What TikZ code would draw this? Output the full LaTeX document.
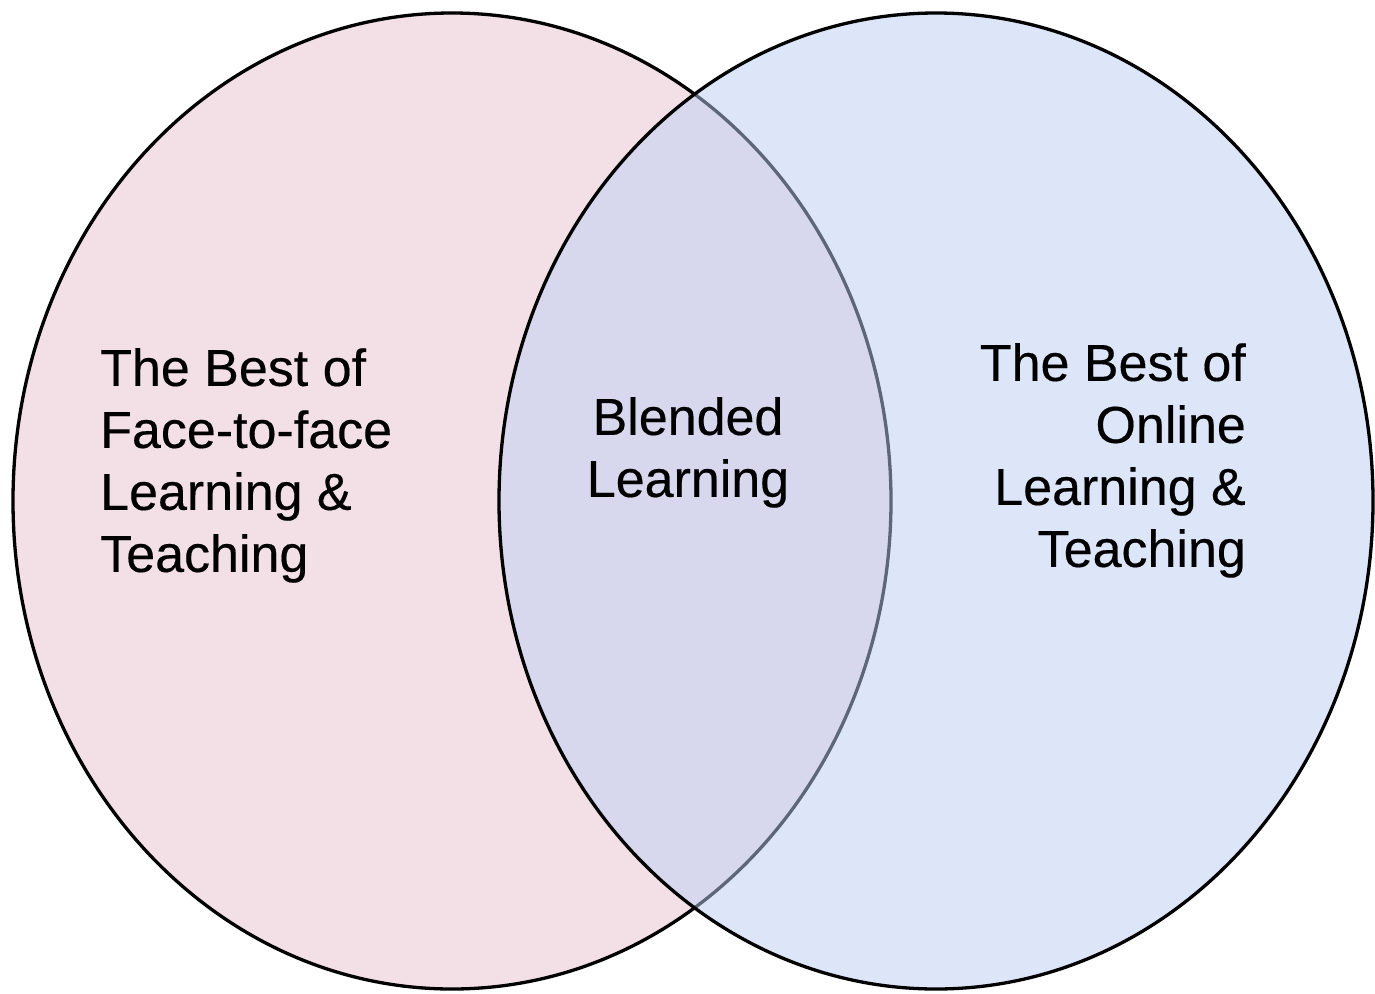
\documentclass[tikz,border=0pt]{standalone}
\usepackage{fontspec}
\setmainfont{Liberation Sans}
\newfontfamily\labelfont{Liberation Sans}[FakeBold=0.35]
\definecolor{pinkfill}{RGB}{243,224,230}
\definecolor{bluefill}{RGB}{189,207,245}
\begin{document}
\begin{tikzpicture}[x=1pt,y=-1pt,
  setcircle/.style={draw=black,line width=3.3pt},
  label/.style={font=\labelfont\fontsize{52}{62}\selectfont,inner sep=0pt,text=black}]
\useasboundingbox (0,0) rectangle (1375,993);
\fill[white] (0,0) rectangle (1375,993);
\path[setcircle,fill=pinkfill] (452,501) ellipse [x radius=439, y radius=488];
\path[setcircle,fill=bluefill,fill opacity=0.5] (936,501) ellipse [x radius=437, y radius=488];
\node[label,anchor=north west,align=left] (left) at (100,348) {The Best of\\Face-to-face\\Learning \&\\Teaching};
\node[label,anchor=north,align=center] (mid) at (688,397) {Blended\\Learning};
\node[label,anchor=north east,align=right] (right) at (1246,343) {The Best of\\Online\\Learning \&\\Teaching};
\end{tikzpicture}
\end{document}
